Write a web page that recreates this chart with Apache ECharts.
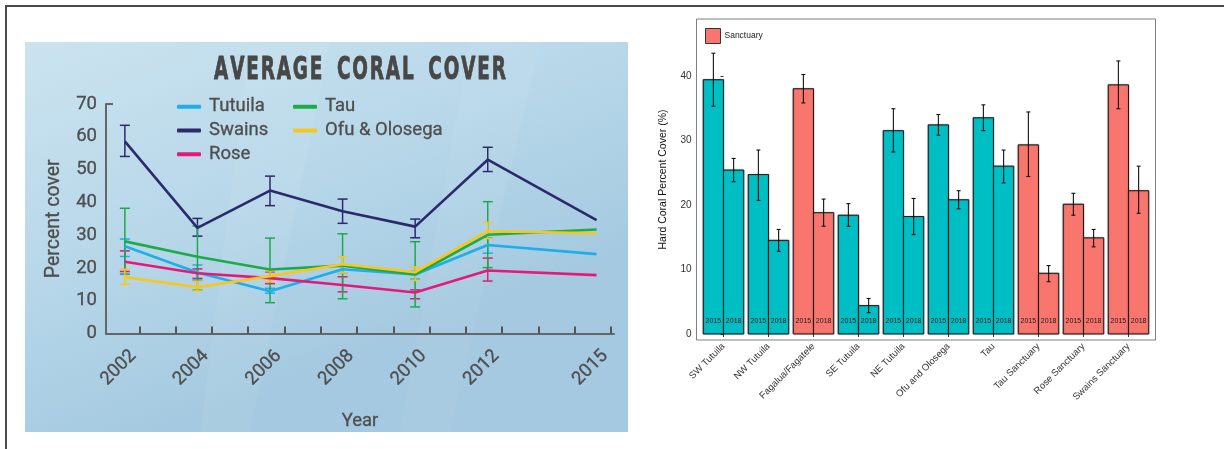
<!DOCTYPE html>
<html>
<head>
<meta charset="utf-8">
<title>Coral cover</title>
<script src="https://cdn.jsdelivr.net/npm/echarts@6/dist/echarts.min.js"></script>
<style>
  html, body { margin: 0; padding: 0; background: #ffffff; }
  #chart { width: 1224px; height: 449px; }
</style>
</head>
<body>
<div id="chart"></div>
<script>
// ---------- Average coral cover by island (left panel) ----------
const years = [2002, 2004, 2006, 2008, 2010, 2012, 2015];
const yearLabels = [2002, 2004, 2006, 2008, 2010, 2012, 2015];

const tutuilaCover = [26.6, 18.6, 12.9, 19.6, 18.0, 27.0, 24.2];
const tutuilaLow   = [23.5, 16.3, 12.3, 18.5, 16.6, 24.5, null];
const tutuilaHigh  = [28.8, 20.9, 13.8, 20.6, 19.0, 29.2, null];

const swainsCover = [58.6, 32.2, 43.6, 37.3, 32.6, 53.0, 34.6];
const swainsLow   = [54.0, 29.7, 39.0, 33.6, 29.2, 49.4, null];
const swainsHigh  = [63.5, 35.1, 48.0, 41.0, 34.9, 56.8, null];

const roseCover = [21.9, 18.4, 16.9, 14.8, 12.5, 19.2, 17.8];
const roseLow   = [18.9, 16.8, 15.2, 12.7, 10.6, 16.0, null];
const roseHigh  = [25.2, 19.7, 18.8, 17.3, 13.3, 23.0, null];

const tauCover = [28.1, 23.4, 19.5, 20.7, 18.0, 30.1, 31.7];
const tauLow   = [18.1, 13.2, 9.4, 10.6, 8.1, 20.1, null];
const tauHigh  = [38.2, 32.8, 29.1, 30.4, 28.0, 40.2, null];

const ofuCover = [17.2, 14.1, 17.5, 21.1, 18.7, 31.2, 30.6];
const ofuLow   = [15.0, 13.0, 15.8, 18.5, 16.2, 29.0, null];
const ofuHigh  = [19.6, 15.9, 19.1, 23.4, 20.3, 33.9, null];

// ---------- Hard coral cover by site, 2015 vs 2018 (right panel) ----------
const sites = ['SW Tutuila', 'NW Tutuila', 'Fagalua/Fagatele', 'SE Tutuila', 'NE Tutuila',
               'Ofu and Olosega', 'Tau', 'Tau Sanctuary', 'Rose Sanctuary', 'Swains Sanctuary'];
const isSanctuary = [false, false, true, false, false, false, false, true, true, true];
const surveyYears = ['2015', '2018'];

const cover2015 = [39.4, 24.7, 38.0, 18.4, 31.5, 32.4, 33.5, 29.3, 20.1, 38.6];
const low2015   = [35.3, 20.7, 35.8, 16.7, 28.2, 30.8, 31.5, 24.4, 18.4, 34.9];
const high2015  = [43.5, 28.5, 40.2, 20.2, 34.9, 34.0, 35.5, 34.4, 21.8, 42.3];

const cover2018 = [25.4, 14.5, 18.8, 4.4, 18.2, 20.8, 26.0, 9.4, 14.9, 22.2];
const low2018   = [23.6, 12.8, 16.7, 3.3, 15.4, 19.4, 23.4, 8.1, 13.5, 18.7];
const high2018  = [27.2, 16.2, 20.9, 5.5, 21.0, 22.2, 28.5, 10.6, 16.2, 26.0];

// ---------------------------------------------------------------
const islandFont = 'Roboto, "Noto Sans", sans-serif';
const islandText = '#4e4e4e';
const rFont = '"Liberation Sans", Arial, sans-serif';

// slightly heavier than regular weight for the island panel text
function islandTextStyle(size) {
  return { fontFamily: islandFont, fontSize: size, color: islandText,
           textBorderColor: islandText, textBorderWidth: 0.3 };
}

const islands = [
  { name: 'Tutuila',       color: '#1eaeea', cover: tutuilaCover, low: tutuilaLow, high: tutuilaHigh },
  { name: 'Swains',        color: '#2a2a6c', cover: swainsCover,  low: swainsLow,  high: swainsHigh },
  { name: 'Rose',          color: '#e4197c', cover: roseCover,    low: roseLow,    high: roseHigh },
  { name: 'Tau',           color: '#1cab4b', cover: tauCover,     low: tauLow,     high: tauHigh },
  { name: 'Ofu & Olosega', color: '#f7c71c', cover: ofuCover,     low: ofuLow,     high: ofuHigh }
];

const xMinYear = 2001.48, xMaxYear = 2015.48;
const yearTicks = [];
for (let t = 2002.4; t < xMaxYear + 0.1; t += 1) yearTicks.push(Math.min(t, xMaxYear));

// error bar with caps, in pixel space from data coords
function errorBarItem(capHalf, lineWidth, color) {
  return function (params, api) {
    const x = api.value(0), lo = api.value(1), hi = api.value(2);
    const pLo = api.coord([x, lo]);
    const pHi = api.coord([x, hi]);
    const st = { stroke: color, lineWidth: lineWidth };
    return {
      type: 'group',
      children: [
        { type: 'line', shape: { x1: pLo[0], y1: pLo[1], x2: pHi[0], y2: pHi[1] }, style: st },
        { type: 'line', shape: { x1: pLo[0] - capHalf, y1: pLo[1], x2: pLo[0] + capHalf, y2: pLo[1] }, style: st },
        { type: 'line', shape: { x1: pHi[0] - capHalf, y1: pHi[1], x2: pHi[0] + capHalf, y2: pHi[1] }, style: st }
      ]
    };
  };
}

const series = [];

islands.forEach(function (isl) {
  const errData = [];
  years.forEach(function (y, i) {
    if (isl.low[i] != null && isl.high[i] != null) errData.push([y, isl.low[i], isl.high[i]]);
  });
  series.push({
    type: 'custom',
    name: isl.name,
    xAxisIndex: 0, yAxisIndex: 0,
    renderItem: errorBarItem(5, 1.5, isl.color),
    data: errData,
    itemStyle: { color: isl.color },
    encode: { x: 0, y: [1, 2] },
    z: 2,
    silent: true
  });
});

islands.forEach(function (isl) {
  series.push({
    type: 'line',
    name: isl.name,
    xAxisIndex: 0, yAxisIndex: 0,
    data: years.map(function (y, i) { return [y, isl.cover[i]]; }),
    showSymbol: false,
    symbol: 'none',
    lineStyle: { color: isl.color, width: 2.6 },
    itemStyle: { color: isl.color },
    z: 3
  });
});

// ---- right panel: bars drawn as custom rectangles with error bars ----
const teal = '#00bfc4';
const salmon = '#f8766d';
const barHalf = 0.45;

function siteRows(wantSanctuary) {
  const rows = [];
  sites.forEach(function (s, i) {
    if (isSanctuary[i] !== wantSanctuary) return;
    rows.push([i, 0, cover2015[i], low2015[i], high2015[i]]);
    rows.push([i, 1, cover2018[i], low2018[i], high2018[i]]);
  });
  return rows;
}

function barRender(fill) {
  return function (params, api) {
    const i = api.value(0), slot = api.value(1), v = api.value(2);
    const lo = api.value(3), hi = api.value(4);
    const x0 = slot === 0 ? i - barHalf : i;
    const x1 = x0 + barHalf;
    const xc = (x0 + x1) / 2;
    const pTop = api.coord([x0, v]);
    const pBot = api.coord([x1, 0]);
    const pLo = api.coord([xc, lo]);
    const pHi = api.coord([xc, hi]);
    const pLab = api.coord([xc, 2.0]);
    const eb = { stroke: '#111111', lineWidth: 1.1 };
    return {
      type: 'group',
      children: [
        { type: 'rect',
          shape: { x: pTop[0], y: pTop[1], width: pBot[0] - pTop[0], height: pBot[1] - pTop[1] },
          style: { fill: fill, stroke: '#1b1b1b', lineWidth: 1, shadowColor: 'rgba(0,0,0,0.35)', shadowBlur: 1.5 } },
        { type: 'text',
          style: { text: surveyYears[slot], x: pLab[0], y: pLab[1], align: 'center', verticalAlign: 'middle',
                   font: '7px ' + rFont, fill: '#1a1a1a' } },
        { type: 'line', shape: { x1: pLo[0], y1: pLo[1], x2: pHi[0], y2: pHi[1] }, style: eb },
        { type: 'line', shape: { x1: pLo[0] - 2, y1: pLo[1], x2: pLo[0] + 2, y2: pLo[1] }, style: eb },
        { type: 'line', shape: { x1: pHi[0] - 2, y1: pHi[1], x2: pHi[0] + 2, y2: pHi[1] }, style: eb }
      ]
    };
  };
}

series.push({
  type: 'custom', name: 'Outside sanctuary',
  xAxisIndex: 1, yAxisIndex: 1,
  renderItem: barRender(teal),
  itemStyle: { color: teal },
  encode: { x: 0, y: [2, 3, 4] },
  data: siteRows(false)
});
series.push({
  type: 'custom', name: 'Sanctuary',
  xAxisIndex: 1, yAxisIndex: 1,
  renderItem: barRender(salmon),
  itemStyle: { color: salmon },
  encode: { x: 0, y: [2, 3, 4] },
  data: siteRows(true)
});

const siteTicks = sites.map(function (s, i) { return i; });

const legendText = Object.assign(islandTextStyle(18.5), { padding: [0, 0, 0, 3] });

const option = {
  animation: false,
  backgroundColor: '#ffffff',
  graphic: [
    { type: 'rect', z: -10, shape: { x: 25, y: 42, width: 603, height: 390 },
      style: { fill: new echarts.graphic.LinearGradient(0, 0, 0.25, 1, [
        { offset: 0, color: '#cbe3ef' }, { offset: 0.55, color: '#b7d7e9' }, { offset: 1, color: '#a4c9e0' }]) } },
    { type: 'polygon', z: -9, shape: { points: [[250, 42], [330, 42], [250, 432], [200, 432]] },
      style: { fill: 'rgba(255,255,255,0.06)' } },
    { type: 'polygon', z: -9, shape: { points: [[470, 42], [540, 42], [450, 432], [400, 432]] },
      style: { fill: 'rgba(255,255,255,0.05)' } },
    { type: 'text', x: 360, y: 71, scaleX: 0.64, z: 5,
      style: { text: 'A V E R A G E   C O R A L   C O V E R'.replace(/ (?! )/g, '\u200A'), align: 'center', verticalAlign: 'middle',
               font: 'bold 32px "DejaVu Sans Condensed", "Liberation Sans Narrow", "Open Sans", sans-serif', fill: '#474747',
               stroke: '#474747', lineWidth: 0.8 } },
    { type: 'line', shape: { x1: 5, y1: 6, x2: 1224, y2: 6 }, style: { stroke: '#4a4a4a', lineWidth: 2 } },
    { type: 'line', shape: { x1: 6, y1: 6, x2: 6, y2: 449 }, style: { stroke: '#4a4a4a', lineWidth: 2 } }
  ],
  legend: [
    { left: 172, top: 92, orient: 'vertical', itemGap: 4.5, itemWidth: 24, itemHeight: 4,
      icon: 'roundRect', data: ['Tutuila', 'Swains', 'Rose'], textStyle: legendText },
    { left: 288, top: 92, orient: 'vertical', itemGap: 4.5, itemWidth: 24, itemHeight: 4,
      icon: 'roundRect', data: ['Tau', 'Ofu & Olosega'], textStyle: legendText },
    { left: 700, top: 23, itemWidth: 15, itemHeight: 15, icon: 'rect',
      data: [{ name: 'Sanctuary', itemStyle: { color: salmon, borderColor: '#333333', borderWidth: 1 } }],
      textStyle: { fontFamily: rFont, fontSize: 8.5, color: '#222222', padding: [0, 0, 0, -1] } }
  ],
  grid: [
    { left: 106, top: 104, width: 508, height: 229.5 },
    { left: 696.5, top: 19, width: 459, height: 321, show: true, borderColor: '#808080', borderWidth: 1,
      backgroundColor: 'transparent' }
  ],
  xAxis: [
    { type: 'value', gridIndex: 0, min: xMinYear, max: xMaxYear,
      name: 'Year', nameLocation: 'middle', nameGap: 78,
      nameTextStyle: islandTextStyle(18.5),
      axisLine: { show: true, lineStyle: { color: '#666666', width: 2 } },
      axisTick: { show: true, inside: true, length: 7, customValues: yearTicks, lineStyle: { color: '#555555', width: 2 } },
      axisLabel: Object.assign(islandTextStyle(18.5), {
                   customValues: yearLabels, rotate: 45, margin: 28, padding: [0, -12, 0, 0],
                   formatter: function (v) { return String(Math.round(v)); } }),
      splitLine: { show: false } },
    { type: 'value', gridIndex: 1, min: -0.6, max: 9.6,
      axisLine: { show: false },
      axisTick: { show: true, length: 3, customValues: siteTicks, lineStyle: { color: '#333333', width: 1 } },
      axisLabel: { customValues: siteTicks, rotate: 45, margin: 5,
                   fontFamily: rFont, fontSize: 9.5, color: '#333333',
                   formatter: function (v) { return sites[Math.round(v)]; } },
      splitLine: { show: false } }
  ],
  yAxis: [
    { type: 'value', gridIndex: 0, min: 0, max: 70, interval: 10,
      name: 'Percent cover', nameLocation: 'middle', nameGap: 42,
      nameTextStyle: islandTextStyle(19.5),
      axisLine: { show: true, lineStyle: { color: '#666666', width: 2 } },
      axisTick: { show: true, inside: true, length: 7, customValues: [70], lineStyle: { color: '#666666', width: 2 } },
      axisLabel: Object.assign(islandTextStyle(18.5), { margin: 9 }),
      splitLine: { show: false } },
    { type: 'value', gridIndex: 1, min: -0.93, max: 48.8,
      name: 'Hard Coral Percent Cover (%)', nameLocation: 'middle', nameGap: 28,
      nameTextStyle: { fontFamily: rFont, fontSize: 10.5, color: '#111111' },
      axisLine: { show: false },
      axisTick: { show: true, length: 3, customValues: [0, 10, 20, 30, 40], lineStyle: { color: '#333333', width: 1 } },
      axisLabel: { customValues: [0, 10, 20, 30, 40], margin: 5,
                   fontFamily: rFont, fontSize: 10, color: '#333333' },
      splitLine: { show: false } }
  ],
  series: series
};

const chart = echarts.init(document.getElementById('chart'), null, { renderer: 'canvas' });
chart.setOption(option);
</script>
</body>
</html>
